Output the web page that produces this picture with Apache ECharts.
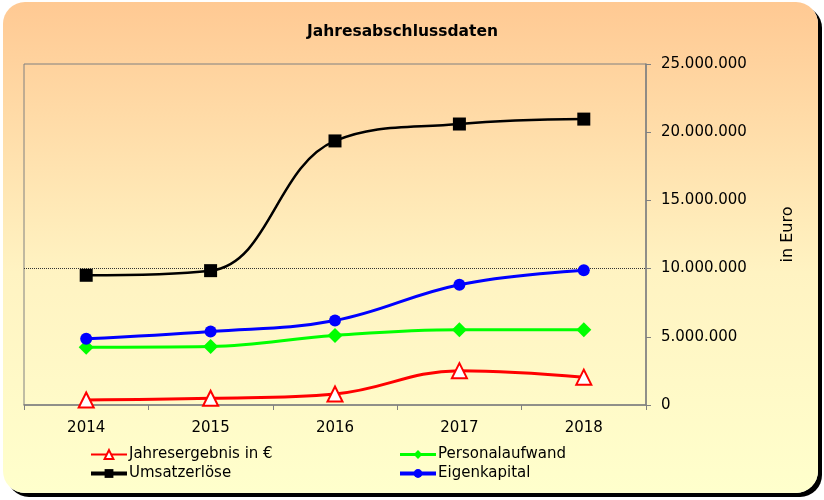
<!DOCTYPE html>
<html>
<head>
<meta charset="utf-8">
<script src="https://cdn.jsdelivr.net/npm/echarts@6/dist/echarts.min.js"></script>
<style>
    html, body { margin: 0; padding: 0; background: #fff; }
    #bg {
        position: absolute; left: 3px; top: 2px; width: 815px; height: 491px;
        border-radius: 22px;
        background: linear-gradient(#FFC993, #FFF3C2 55%, #FFFFCC);
        box-shadow: 4px 4px 0 #000;
    }
    #chart { position: absolute; left: 0; top: 0; width: 824px; height: 500px; }
</style>
</head>
<body>
<div id="bg"></div>
<div id="chart"></div>
<script>
    const years = ['2014', '2015', '2016', '2017', '2018'];
    const jahresergebnis = [370000, 490000, 810000, 2520000, 2040000];
    const personalaufwand = [4240000, 4290000, 5100000, 5510000, 5510000];
    const umsatzerloese = [9510000, 9850000, 19360000, 20600000, 20960000];
    const eigenkapital = [4850000, 5390000, 6200000, 8820000, 9880000];

    const font = 'DejaVu Sans, sans-serif';

    // Tausenderpunkte wie im Original
    const fmt = (v) => String(v).replace(/\B(?=(\d{3})+(?!\d))/g, '.');

    const chart = echarts.init(document.getElementById('chart'));

    const legendBase = {
        orient: 'vertical',
        top: 442,
        itemWidth: 36,
        itemHeight: 11,
        itemGap: 4,
        textStyle: { fontFamily: font, fontSize: 15, color: '#000', padding: [0, 0, 0, -3] }
    };

    const option = {
        backgroundColor: 'transparent',
        animation: false,
        title: {
            text: 'Jahresabschlussdaten',
            left: 302,
            top: 19,
            textStyle: { fontFamily: font, fontSize: 15.5, fontWeight: 'bold', color: '#000' }
        },
        legend: [
            Object.assign({}, legendBase, {
                left: 84,
                data: [
                    { name: 'Jahresergebnis in €', lineStyle: { width: 2 } },
                    { name: 'Umsatzerlöse', lineStyle: { width: 4 } }
                ]
            }),
            Object.assign({}, legendBase, {
                left: 393,
                data: [
                    { name: 'Personalaufwand', lineStyle: { width: 3 } },
                    { name: 'Eigenkapital', lineStyle: { width: 4 } }
                ]
            })
        ],
        grid: {
            left: 24, right: 178, top: 64, bottom: 95,
            show: true,
            borderColor: '#808080',
            borderWidth: 1,
            backgroundColor: 'transparent'
        },
        xAxis: {
            type: 'category',
            data: years,
            boundaryGap: true,
            axisLine: { lineStyle: { color: '#808080', width: 1.5 } },
            axisTick: { show: true, length: 5, lineStyle: { color: '#808080' } },
            axisLabel: { fontFamily: font, fontSize: 15, color: '#000', margin: 16 }
        },
        yAxis: {
            type: 'value',
            position: 'right',
            min: 0,
            max: 25000000,
            interval: 5000000,
            name: 'in Euro',
            nameLocation: 'middle',
            nameRotate: 90,
            nameGap: 134,
            nameTextStyle: { fontFamily: font, fontSize: 16, color: '#000' },
            axisLine: { show: true, lineStyle: { color: '#808080', width: 1.5 } },
            axisTick: { show: true, length: 5, lineStyle: { color: '#808080' } },
            axisLabel: { fontFamily: font, fontSize: 15, color: '#000', margin: 15, formatter: fmt },
            splitLine: {
                show: true,
                lineStyle: {
                    type: 'dotted',
                    width: 1,
                    color: ['transparent', 'transparent', '#333', 'transparent', 'transparent', 'transparent']
                }
            }
        },
        series: [
            {
                name: 'Jahresergebnis in €',
                type: 'line',
                data: jahresergebnis,
                smooth: 0.4,
                symbol: 'triangle',
                symbolSize: 15,
                lineStyle: { color: '#FF0000', width: 3 },
                itemStyle: { color: '#FFFFFF', borderColor: '#FF0000', borderWidth: 2 }
            },
            {
                name: 'Personalaufwand',
                type: 'line',
                data: personalaufwand,
                smooth: 0.4,
                symbol: 'diamond',
                symbolSize: 15,
                lineStyle: { color: '#00FF00', width: 3 },
                itemStyle: { color: '#00FF00' }
            },
            {
                name: 'Umsatzerlöse',
                type: 'line',
                data: umsatzerloese,
                smooth: 0.4,
                symbol: 'rect',
                symbolSize: 13,
                lineStyle: { color: '#000000', width: 2.5 },
                itemStyle: { color: '#000000' }
            },
            {
                name: 'Eigenkapital',
                type: 'line',
                data: eigenkapital,
                smooth: 0.4,
                symbol: 'circle',
                symbolSize: 12,
                lineStyle: { color: '#0000FF', width: 3 },
                itemStyle: { color: '#0000FF' }
            }
        ]
    };

    chart.setOption(option);
</script>
</body>
</html>
